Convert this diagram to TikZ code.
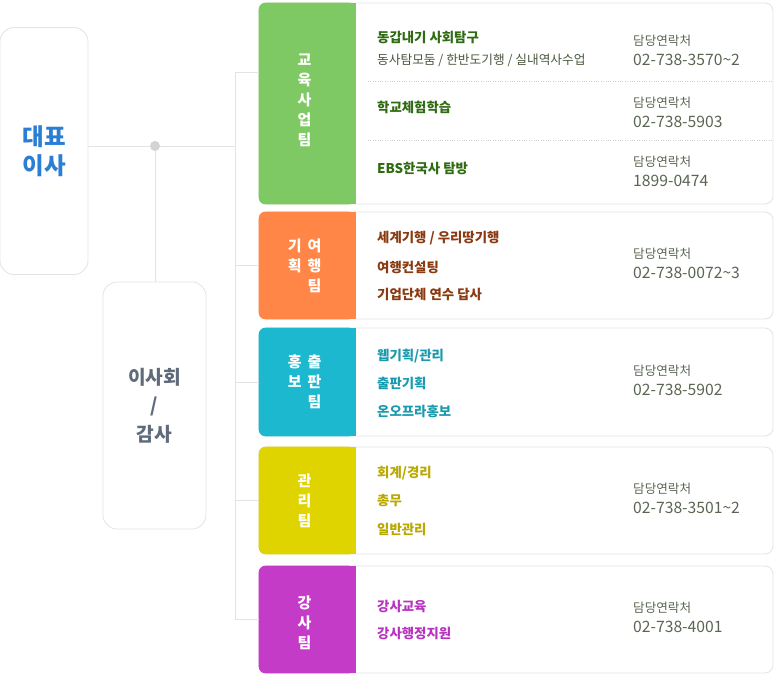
\documentclass[tikz,border=0pt]{standalone}
\usepackage{fontspec}
\setmainfont{Noto Sans CJK KR}
\usepackage{xcolor}
\usepackage{tikz}
\usetikzlibrary{positioning, calc}

\definecolor{linegray}{HTML}{E3E3E3}
\definecolor{dotgray}{HTML}{D3D3D3}
\definecolor{ceoblue}{HTML}{2A7FD4}
\definecolor{boardgray}{HTML}{5F6B7A}
\definecolor{contactgray}{HTML}{5A6652}
\definecolor{edugreen}{HTML}{7FC964}
\definecolor{edutext}{HTML}{2F6B12}
\definecolor{edusub}{HTML}{4B5840}
\definecolor{travelorange}{HTML}{FF8646}
\definecolor{traveltext}{HTML}{8A3A10}
\definecolor{pubcyan}{HTML}{1CB8CF}
\definecolor{pubtext}{HTML}{1A9AAE}
\definecolor{mgmtyellow}{HTML}{DFD400}
\definecolor{mgmttext}{HTML}{B9A800}
\definecolor{lecpurple}{HTML}{C43BC8}
\definecolor{lectext}{HTML}{B833BF}

\newcommand{\phone}[1]{{\fontsize{15.7}{20}\selectfont #1}}

\begin{document}
\begin{tikzpicture}[
    x=1pt, y=-1pt,
    sidebox/.style={
        rectangle,
        rounded corners=14,
        draw=linegray,
        line width=0.8,
        align=center,
        inner sep=0
    },
    teambox/.style={
        rectangle,
        rounded corners=8,
        draw=linegray,
        fill=white,
        line width=0.8,
        minimum width=514,
        inner sep=0
    },
    taglabel/.style={
        align=center,
        text=white,
        inner sep=0,
        font=\bfseries\fontsize{15}{20}\selectfont
    },
    item/.style={
        anchor=west,
        inner sep=0,
        font=\bfseries\fontsize{13.4}{15}\selectfont
    },
    contact/.style={
        anchor=west,
        align=left,
        inner sep=0,
        text=contactgray,
        font=\fontsize{12.6}{20}\selectfont
    },
    conn/.style={draw=linegray, line width=1}
]
\useasboundingbox (0,0) rectangle (775,677);

% Left column
\node (ceo) [sidebox, minimum width=88, minimum height=247, text=ceoblue,
    font=\bfseries\fontsize{23.5}{29}\selectfont] at (44,151) {대표\\이사};

\node (board) [sidebox, minimum width=103, minimum height=247, text=boardgray,
    font=\bfseries\fontsize{19.2}{28.5}\selectfont] at (154.5,405.5) {이사회\\/\\감사};

% Team boxes
\node (edu) [teambox, minimum height=201] at (516,103.5) {};
\node (travel) [teambox, minimum height=107] at (516,265.5) {};
\node (pub) [teambox, minimum height=108] at (516,382) {};
\node (mgmt) [teambox, minimum height=107] at (516,500.5) {};
\node (lec) [teambox, minimum height=107] at (516,619.5) {};

% Colour tags
\fill[edugreen, rounded corners=7] (edu.north west) rectangle ($(edu.south west)+(97,0)$);
\fill[edugreen] ($(edu.north west)+(80,0)$) rectangle ($(edu.south west)+(97,0)$);
\fill[travelorange, rounded corners=7] (travel.north west) rectangle ($(travel.south west)+(97,0)$);
\fill[travelorange] ($(travel.north west)+(80,0)$) rectangle ($(travel.south west)+(97,0)$);
\fill[pubcyan, rounded corners=7] (pub.north west) rectangle ($(pub.south west)+(97,0)$);
\fill[pubcyan] ($(pub.north west)+(80,0)$) rectangle ($(pub.south west)+(97,0)$);
\fill[mgmtyellow, rounded corners=7] (mgmt.north west) rectangle ($(mgmt.south west)+(97,0)$);
\fill[mgmtyellow] ($(mgmt.north west)+(80,0)$) rectangle ($(mgmt.south west)+(97,0)$);
\fill[lecpurple, rounded corners=7] (lec.north west) rectangle ($(lec.south west)+(97,0)$);
\fill[lecpurple] ($(lec.north west)+(80,0)$) rectangle ($(lec.south west)+(97,0)$);

\node (edulbl) [taglabel] at ($(edu.west)+(46,-3)$) {교\\육\\사\\업\\팀};
\node (travellbl) [taglabel] at ($(travel.west)+(46,0)$)
    {기\hspace{6pt}여\\획\hspace{6pt}행\\\phantom{기}\hspace{6pt}팀};
\node (publbl) [taglabel] at ($(pub.west)+(46,0)$)
    {홍\hspace{6pt}출\\보\hspace{6pt}판\\\phantom{홍}\hspace{6pt}팀};
\node (mgmtlbl) [taglabel] at ($(mgmt.west)+(46,0)$) {관\\리\\팀};
\node (leclbl) [taglabel] at ($(lec.west)+(46,3)$) {강\\사\\팀};

% Education items
\node (e1) [item, text=edutext] at (377,37) {동갑내기 사회탐구};
\node (e2) [item, text=edusub, font=\fontsize{12.7}{15}\selectfont] at (377,60)
    {동사탐모둠 / 한반도기행 / 실내역사수업};
\node (e3) [item, text=edutext] at (377,107) {학교체험학습};
\node (e4) [item, text=edutext] at (377,168) {EBS한국사 탐방};
\draw[linegray!80!gray, dotted] (368,81) -- (368,81 -| edu.east);
\draw[linegray!80!gray, dotted] (368,140) -- (368,140 -| edu.east);

% Travel items
\node (t1) [item, text=traveltext] at (377,238) {세계기행 / 우리땅기행};
\node (t2) [item, text=traveltext] at (377,267) {여행컨설팅};
\node (t3) [item, text=traveltext] at (377,294) {기업단체 연수 답사};

% Publishing items
\node (p1) [item, text=pubtext] at (377,356) {웹기획/관리};
\node (p2) [item, text=pubtext] at (377,383) {출판기획};
\node (p3) [item, text=pubtext] at (377,411) {온오프라홍보};

% Management items
\node (m1) [item, text=mgmttext] at (377,473) {회계/경리};
\node (m2) [item, text=mgmttext] at (377,501) {총무};
\node (m3) [item, text=mgmttext] at (377,529) {일반관리};

% Lecturer items
\node (l1) [item, text=lectext] at (377,606) {강사교육};
\node (l2) [item, text=lectext] at (377,633) {강사행정지원};

% Contacts
\node (c1) [contact] at (633,50) {담당연락처\\\phone{02-738-3570\textasciitilde2}};
\node (c2) [contact] at (633,112) {담당연락처\\\phone{02-738-5903}};
\node (c3) [contact] at (633,171) {담당연락처\\\phone{1899-0474}};
\node (c4) [contact] at (633,263) {담당연락처\\\phone{02-738-0072\textasciitilde3}};
\node (c5) [contact] at (633,380) {담당연락처\\\phone{02-738-5902}};
\node (c6) [contact] at (633,498) {담당연락처\\\phone{02-738-3501\textasciitilde2}};
\node (c7) [contact] at (633,617.5) {담당연락처\\\phone{02-738-4001}};

% Connectors
\coordinate (hubpt) at (155,146);
\coordinate (ttop) at (235,72);
\coordinate (tbot) at (lec.west -| ttop);
\draw[conn] (ceo.east |- hubpt) -- (hubpt -| ttop);
\draw[conn] (hubpt) -- (hubpt |- board.north);
\draw[conn] (ttop) -- (tbot);
\draw[conn] (ttop) -- (ttop -| edu.west);
\draw[conn] (travel.west -| ttop) -- (travel.west);
\draw[conn] (pub.west -| ttop) -- (pub.west);
\draw[conn] (mgmt.west -| ttop) -- (mgmt.west);
\draw[conn] (tbot) -- (lec.west);
\node (hub) [circle, fill=dotgray, inner sep=0, minimum size=10] at (hubpt) {};

\end{tikzpicture}
\end{document}
